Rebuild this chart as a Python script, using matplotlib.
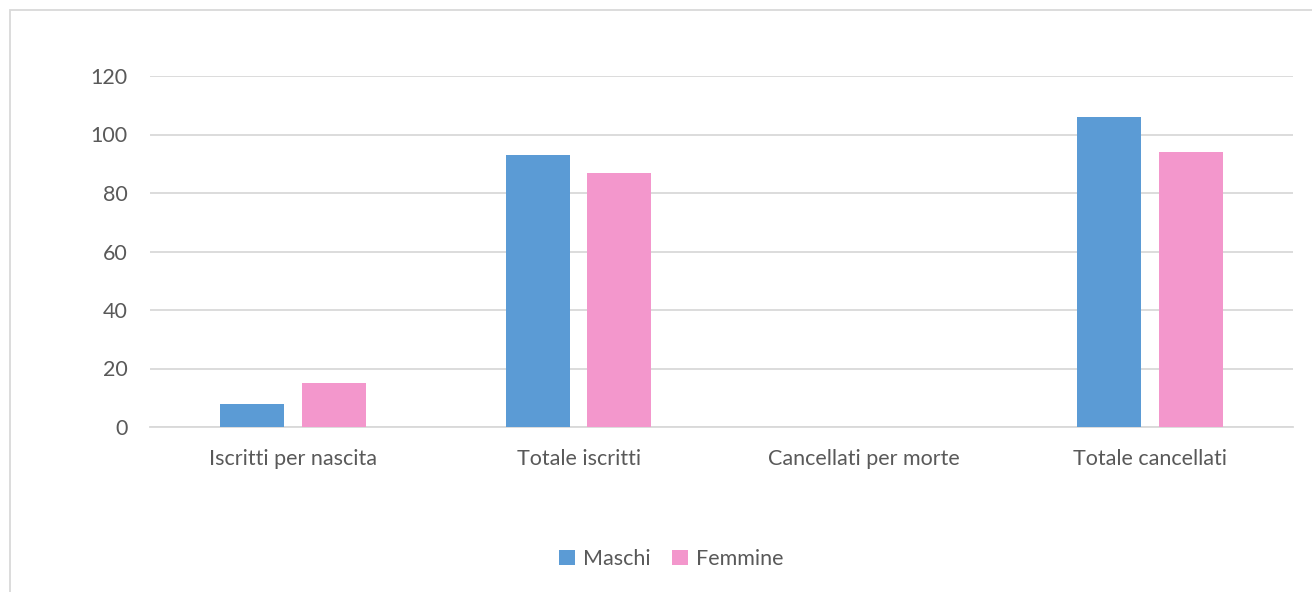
import numpy as np
import matplotlib.pyplot as plt
from matplotlib.patches import Rectangle

categories = ['Iscritti per nascita', 'Totale iscritti', 'Cancellati per morte', 'Totale cancellati']
maschi = [8, 93, 0, 106]
femmine = [15, 87, 0, 94]
yticks = [0, 20, 40, 60, 80, 100, 120]

blue = '#5b9bd5'
pink = '#f397cc'
grid_col = '#d9d9d9'
text_col = '#595959'

plt.rcParams['font.family'] = ['Lato', 'DejaVu Sans']

fig = plt.figure(figsize=(13.12, 5.92), dpi=100)
ax = fig.add_axes([150 / 1312, 1 - 427 / 592, (1293 - 150) / 1312, (427 - 76) / 592])

x = np.arange(len(categories))
w = 0.224
off = 0.1426
ax.bar(x - off, maschi, w, color=blue, label='Maschi', zorder=3)
ax.bar(x + off, femmine, w, color=pink, label='Femmine', zorder=3)

ax.set_xlim(-0.5, len(categories) - 0.5)
ax.set_ylim(0, 120)
ax.set_yticks(yticks)
ax.set_xticks(x)
ax.set_xticklabels(categories)
ax.tick_params(axis='both', length=0, labelsize=15.5, colors=text_col)
ax.tick_params(axis='y', pad=16)
ax.tick_params(axis='x', pad=16)
ax.grid(axis='y', color=grid_col, linewidth=1.3, zorder=0)
for s in ['top', 'right', 'left']:
    ax.spines[s].set_visible(False)
ax.spines['bottom'].set_color(grid_col)
ax.spines['bottom'].set_linewidth(1.3)

leg = fig.legend(loc='center', bbox_to_anchor=(671 / 1312, 1 - 559 / 592), ncol=2,
                 frameon=False, fontsize=15.5, handlelength=0.75, handleheight=0.75,
                 handletextpad=0.35, columnspacing=1.0)
for t in leg.get_texts():
    t.set_color(text_col)

# outer chart frame (right and bottom edges fall outside the picture)
fig.patches.append(Rectangle((9.5 / 1312, -0.1), 1.2, 1.1 - 9.5 / 592, transform=fig.transFigure,
                             fill=False, edgecolor=grid_col, linewidth=1.3))

fig.savefig('out.png', dpi=100, facecolor='white')
